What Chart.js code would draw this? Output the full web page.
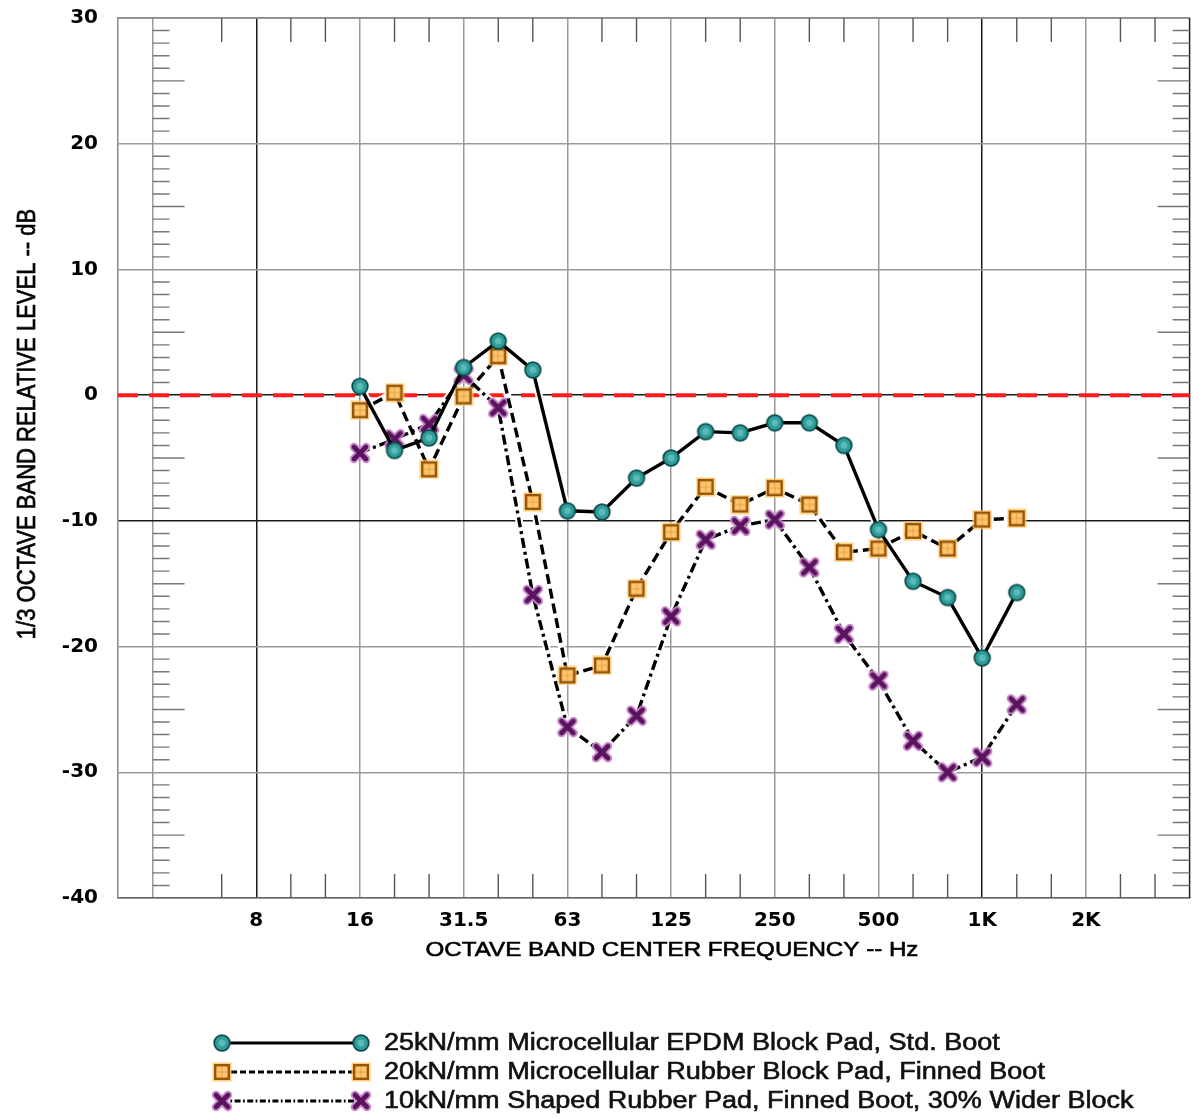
<!DOCTYPE html>
<html>
<head>
<meta charset="utf-8">
<script src="https://cdn.jsdelivr.net/npm/chart.js@4.4.1/dist/chart.umd.min.js"></script>
<style>
  html, body { margin: 0; padding: 0; background: #fff; }
  canvas { display: block; }
</style>
</head>
<body>
<canvas id="chart" width="1201" height="1119"></canvas>
<script>
// ── Axis bands (1/3 octave centres) ──
const bandAxis = ['3.15','4','5','6.3','8','10','12.5','16','20','25','31.5','40','50','63','80','100',
                  '125','160','200','250','315','400','500','630','800','1K','1.25K','1.6K','2K','2.5K','3.15K','4K'];
const octaveLines  = ['4','8','16','31.5','63','125','250','500','1K','2K'];
const octaveLabels = ['8','16','31.5','63','125','250','500','1K','2K'];
const darkLinesX   = ['8','1K'];
const minorTicksX  = ['6.3','10','12.5','20','25','40','50','80','100','160','200','315','400','630','800','1.25K','1.6K','2.5K','3.15K'];
const darkLinesY   = [0, -10];
const zeroLevel    = 0;

// ── Measured data ──
const measuredBands = ['16','20','25','31.5','40','50','63','80','100','125','160','200','250','315','400','500','630','800','1K','1.25K'];
const epdmPad   = [0.7, -4.4, -3.4, 2.2, 4.3, 2.0, -9.2, -9.3, -6.6, -5.0, -2.9, -3.0, -2.2, -2.2, -4.0, -10.7, -14.8, -16.1, -20.9, -15.7];
const rubberPad = [-1.2, 0.2, -5.9, -0.1, 3.1, -8.5, -22.3, -21.5, -15.4, -10.9, -7.3, -8.7, -7.4, -8.7, -12.5, -12.2, -10.8, -12.2, -9.9, -9.8];
const shapedPad = [-4.6, -3.5, -2.3, 1.6, -1.0, -15.9, -26.4, -28.4, -25.5, -17.6, -11.5, -10.4, -9.9, -13.7, -19.0, -22.7, -27.5, -30.0, -28.8, -24.6];
const seriesNames = [
  '25kN/mm Microcellular EPDM Block Pad, Std. Boot',
  '20kN/mm Microcellular Rubber Block Pad, Finned Boot',
  '10kN/mm Shaped Rubber Pad, Finned Boot, 30% Wider Block'
];

// ── Marker images ──
function makeCanvas(size) {
  const c = document.createElement('canvas');
  c.width = c.height = size;
  return c;
}
function circleMarker() {
  const c = makeCanvas(20), g = c.getContext('2d');
  g.beginPath(); g.arc(10, 10, 7.8, 0, Math.PI * 2);
  g.fillStyle = '#2f9d9a'; g.fill();
  g.lineWidth = 1.8; g.strokeStyle = '#0d4d4e'; g.stroke();
  g.beginPath(); g.arc(10, 10, 3.4, 0, Math.PI * 2);
  g.fillStyle = 'rgba(140,215,210,0.5)'; g.fill();
  return c;
}
function squareMarker() {
  const c = makeCanvas(20), g = c.getContext('2d');
  g.fillStyle = 'rgba(255,196,100,0.85)'; g.fillRect(0.5, 0.5, 19, 19);
  g.fillStyle = '#ffc66e'; g.fillRect(3, 3, 14, 14);
  g.lineWidth = 2.4; g.strokeStyle = '#96560a'; g.strokeRect(3.2, 3.2, 13.6, 13.6);
  g.lineWidth = 1; g.strokeStyle = 'rgba(220,140,40,0.6)';
  g.beginPath(); g.moveTo(10, 5); g.lineTo(10, 15); g.moveTo(5, 10); g.lineTo(15, 10); g.stroke();
  return c;
}
function crossMarker() {
  const c = makeCanvas(22), g = c.getContext('2d');
  g.lineCap = 'round';
  g.beginPath(); g.moveTo(5, 5); g.lineTo(17, 17); g.moveTo(17, 5); g.lineTo(5, 17);
  g.lineWidth = 8.5; g.strokeStyle = '#c98bc9'; g.stroke();
  g.lineWidth = 4.6; g.strokeStyle = '#5a135e'; g.stroke();
  return c;
}
const markers = [circleMarker(), squareMarker(), crossMarker()];
const dashes  = [[], [10, 5], [10, 4, 3, 4]];

function toPoints(values) {
  return measuredBands.map((b, i) => ({ x: b, y: values[i] }));
}

// text with a faint outline so it reads as heavy as the original
function heavyText(ctx, text, x, y) {
  ctx.fillText(text, x, y);
  ctx.lineWidth = 0.6;
  ctx.strokeStyle = ctx.fillStyle;
  ctx.strokeText(text, x, y);
}

// ── Frame, minor ticks, halos, titles, legend ──
const decorPlugin = {
  id: 'decor',
  beforeDatasetsDraw(chart) {
    const { ctx, chartArea: a, scales: { x, y } } = chart;
    ctx.save();
    // top / right frame
    ctx.lineWidth = 1.5;
    ctx.strokeStyle = '#888';
    ctx.beginPath(); ctx.moveTo(a.left, a.top); ctx.lineTo(a.right, a.top); ctx.stroke();
    ctx.strokeStyle = '#222';
    ctx.beginPath(); ctx.moveTo(a.right, a.top); ctx.lineTo(a.right, a.bottom); ctx.stroke();

    // 1/3 octave ticks top and bottom
    ctx.strokeStyle = '#555';
    ctx.lineWidth = 1.4;
    minorTicksX.forEach(b => {
      const px = x.getPixelForValue(bandAxis.indexOf(b));
      ctx.beginPath();
      ctx.moveTo(px, a.top); ctx.lineTo(px, a.top + 24);
      ctx.moveTo(px, a.bottom); ctx.lineTo(px, a.bottom - 24);
      ctx.stroke();
    });

    // 1 dB ticks on the 4 Hz line and the right frame
    const leftX = x.getPixelForValue(bandAxis.indexOf('4'));
    ctx.strokeStyle = '#777';
    for (let v = y.min; v <= y.max; v++) {
      if (v % 10 === 0) continue;
      const py = y.getPixelForValue(v);
      const len = v % 5 === 0 ? 32 : 17;
      ctx.beginPath();
      ctx.moveTo(leftX, py); ctx.lineTo(leftX + len, py);
      ctx.moveTo(a.right, py); ctx.lineTo(a.right - len, py);
      ctx.stroke();
    }

    // red reference line
    const zy = y.getPixelForValue(zeroLevel);
    ctx.strokeStyle = '#ff1c1c';
    ctx.lineWidth = 4;
    ctx.setLineDash([20, 11]);
    ctx.beginPath(); ctx.moveTo(a.left, zy); ctx.lineTo(a.right, zy); ctx.stroke();
    ctx.setLineDash([]);

    // white halos under the data lines
    ctx.strokeStyle = '#fff';
    ctx.lineWidth = 7.5;
    ctx.lineJoin = 'round';
    chart.data.datasets.forEach((ds, i) => {
      const pts = chart.getDatasetMeta(i).data;
      ctx.beginPath();
      pts.forEach((p, j) => j ? ctx.lineTo(p.x, p.y) : ctx.moveTo(p.x, p.y));
      ctx.stroke();
    });
    ctx.restore();
  },
  afterDraw(chart) {
    const { ctx } = chart;
    const stretch = 1.15;
    ctx.save();
    ctx.fillStyle = '#000';

    // x title
    ctx.font = '21px "Liberation Sans", Arial, sans-serif';
    ctx.textAlign = 'center';
    ctx.textBaseline = 'middle';
    ctx.save();
    ctx.translate(672, 950);
    ctx.scale(stretch, 1);
    heavyText(ctx, 'OCTAVE BAND CENTER FREQUENCY -- Hz', 0, 0);
    ctx.restore();

    // y title
    ctx.font = '22px "Liberation Sans", Arial, sans-serif';
    ctx.save();
    ctx.translate(28, 424);
    ctx.rotate(-Math.PI / 2);
    ctx.scale(1, stretch);
    heavyText(ctx, '1/3 OCTAVE BAND RELATIVE LEVEL -- dB', 0, 0);
    ctx.restore();

    // legend
    const rows = [1043, 1072, 1101];
    const x0 = 222, x1 = 361, textX = 384;
    chart.data.datasets.forEach((ds, i) => {
      const ry = rows[i];
      ctx.strokeStyle = '#000';
      ctx.lineWidth = 2.8;
      ctx.setLineDash(dashes[i].map(d => d * 0.6));
      ctx.beginPath(); ctx.moveTo(x0, ry); ctx.lineTo(x1, ry); ctx.stroke();
      ctx.setLineDash([]);
      const m = markers[i];
      ctx.drawImage(m, x0 - m.width / 2, ry - m.height / 2);
      ctx.drawImage(m, x1 - m.width / 2, ry - m.height / 2);
      ctx.save();
      ctx.font = '23.5px "Liberation Sans", Arial, sans-serif';
      ctx.textAlign = 'left';
      ctx.textBaseline = 'middle';
      ctx.translate(textX, ry + 1);
      ctx.scale(stretch, 1);
      ctx.fillStyle = '#111';
      heavyText(ctx, ds.label, 0, 0);
      ctx.restore();
    });
    ctx.restore();
  }
};

const seriesValues = [epdmPad, rubberPad, shapedPad];
const tickFont = { family: '"DejaVu Sans"', size: 20, weight: 'bold' };

new Chart(document.getElementById('chart'), {
  type: 'line',
  data: {
    labels: bandAxis,
    datasets: seriesValues.map((vals, i) => ({
      label: seriesNames[i],
      data: toPoints(vals),
      borderColor: '#000',
      borderWidth: 3.4,
      borderDash: dashes[i],
      pointStyle: markers[i],
      pointRadius: 8,
      tension: 0,
      fill: false
    }))
  },
  options: {
    responsive: false,
    animation: false,
    devicePixelRatio: 1,
    layout: { padding: { top: 18, right: 9, bottom: 0, left: 0 } },
    plugins: { legend: { display: false }, tooltip: { enabled: false } },
    scales: {
      x: {
        type: 'category',
        offset: false,
        afterFit: s => { s.height = 221; s.paddingLeft = 0; s.paddingRight = 0; },
        border: { display: true, color: '#666', width: 1.5 },
        grid: {
          drawTicks: false,
          lineWidth: 1.5,
          color: c => {
            const b = bandAxis[c.index];
            if (!octaveLines.includes(b)) return 'rgba(0,0,0,0)';
            return darkLinesX.includes(b) ? '#1a1a1a' : '#9a9a9a';
          }
        },
        ticks: {
          autoSkip: false,
          maxRotation: 0,
          padding: 11,
          color: '#000',
          font: tickFont,
          callback: function (v) {
            const b = this.getLabelForValue(v);
            return octaveLabels.includes(b) ? b : '';
          }
        }
      },
      y: {
        min: -40,
        max: 30,
        afterFit: s => { s.width = 118; s.paddingTop = 0; s.paddingBottom = 0; },
        border: { display: true, color: '#888', width: 1.5 },
        grid: {
          drawTicks: false,
          lineWidth: 1.5,
          color: c => darkLinesY.includes(c.tick.value) ? '#1a1a1a' : '#9a9a9a'
        },
        ticks: {
          stepSize: 10,
          padding: 20,
          color: '#000',
          font: tickFont
        }
      }
    }
  },
  plugins: [decorPlugin]
});
</script>
</body>
</html>
